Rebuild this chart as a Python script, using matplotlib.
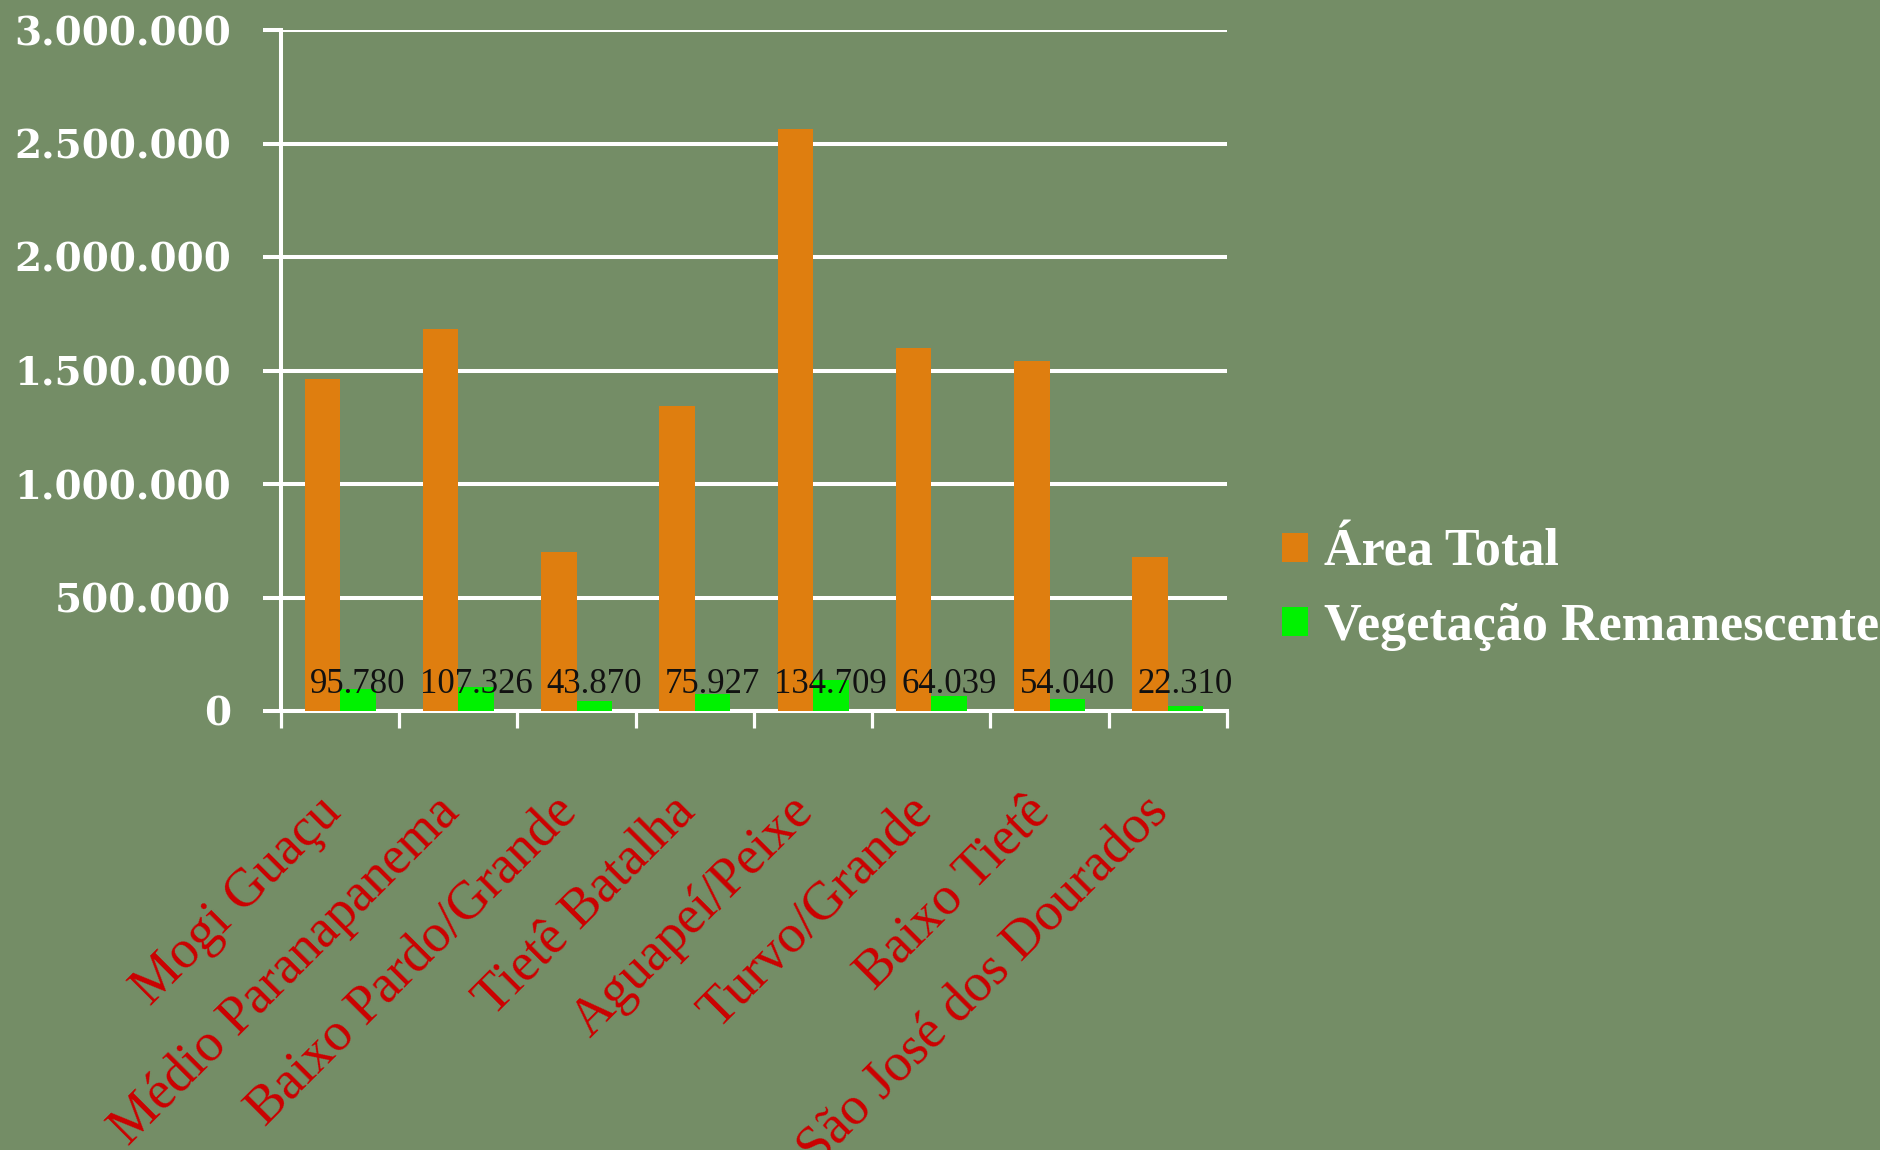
import matplotlib
matplotlib.use("Agg")
import matplotlib.pyplot as plt
import matplotlib.transforms as mtransforms
import numpy as np
from matplotlib.ticker import FuncFormatter, FixedLocator

categories = ["Mogi Guaçu", "Médio Paranapanema", "Baixo Pardo/Grande", "Tietê Batalha",
              "Aguapeí/Peixe", "Turvo/Grande", "Baixo Tietê", "São José dos Dourados"]
area_total = [1461000, 1683000, 700000, 1345000, 2566000, 1599000, 1541000, 679000]
vegetacao = [95780, 107326, 43870, 75927, 134709, 64039, 54040, 22310]
series_names = ["Área Total", "Vegetação Remanescente"]
y_ticks = [0, 500000, 1000000, 1500000, 2000000, 2500000, 3000000]

BG = "#748d66"
ORANGE = "#df7e0f"
GREEN = "#00f200"

W, H = 1881, 1150
fig = plt.figure(figsize=(W / 100, H / 100), dpi=100)
fig.patch.set_facecolor(BG)
ax = fig.add_axes([281 / W, 1 - 711 / H, (1227 - 281) / W, (711 - 30) / H])
ax.set_facecolor("none")

x = np.arange(len(categories))
bw = 0.3
b1 = ax.bar(x - bw / 2, area_total, bw, color=ORANGE, label=series_names[0], zorder=3)
b2 = ax.bar(x + bw / 2, vegetacao, bw, color=GREEN, label=series_names[1], zorder=3)

def fmt(v):
    return f"{int(round(v)):,}".replace(",", ".")

for rect, v in zip(b2, vegetacao):
    ax.text(rect.get_x() + rect.get_width() / 2, 80000, fmt(v), ha="center", va="baseline",
            fontsize=25, family="Liberation Serif", color="#111111", zorder=4)

ax.set_xlim(-0.5, len(categories) - 0.5)
ax.set_ylim(0, 3000000)
ax.yaxis.set_major_locator(FixedLocator(y_ticks))
ax.yaxis.set_major_formatter(FuncFormatter(lambda v, p: fmt(v)))
ax.grid(axis="y", color="white", linewidth=2.9, zorder=1)
ax.set_axisbelow(True)

for s in ["top", "right"]:
    ax.spines[s].set_visible(False)
for s in ["left", "bottom"]:
    ax.spines[s].set_color("white")
    ax.spines[s].set_linewidth(2.9)
    ax.spines[s].set_zorder(2)

ax.tick_params(axis="y", direction="out", length=13, width=2.9, color="white",
               pad=23, labelsize=28, labelcolor="white")
for lab in ax.get_yticklabels():
    lab.set_family("DejaVu Serif")
    lab.set_fontweight("bold")

ax.set_xticks(np.arange(len(categories) + 1) - 0.5)
ax.set_xticklabels([])
ax.set_xticks(x, minor=True)
ax.set_xticklabels(categories, minor=True, rotation=45, ha="right", va="top",
                   rotation_mode="anchor", fontsize=39, family="Liberation Serif", color="#cc0000")
ax.tick_params(axis="x", which="major", direction="out", length=12, width=2.3, color="white")
ax.tick_params(axis="x", which="minor", length=0, pad=58)
shift = mtransforms.ScaledTranslation(-0.25, 0.05, fig.dpi_scale_trans)
for lab in ax.get_xticklabels(minor=True):
    lab.set_transform(lab.get_transform() + shift)

fig.legend(handles=[b1, b2], labels=series_names, loc="center left",
           bbox_to_anchor=(1282 / W, 1 - 590 / H), frameon=False,
           prop={"family": "Liberation Serif", "size": 37.5, "weight": "bold"}, labelcolor="white",
           handlelength=0.5, handleheight=0.5, handletextpad=0.3, labelspacing=0.5,
           borderpad=0, borderaxespad=0)

fig.savefig("out.png", dpi=100, facecolor=BG)
